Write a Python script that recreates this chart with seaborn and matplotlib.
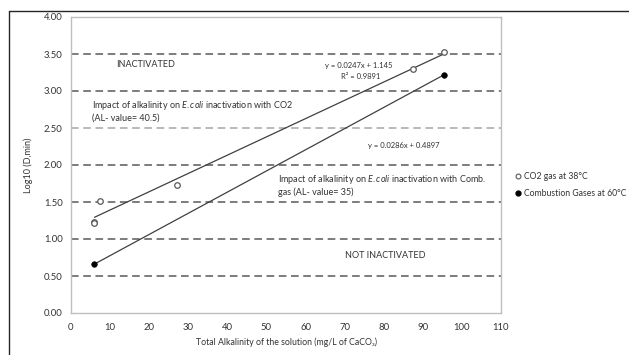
import numpy as np
import pandas as pd
import matplotlib
matplotlib.use("Agg")
import matplotlib.pyplot as plt
import seaborn as sns
from matplotlib.lines import Line2D

sns.set_theme(style="white")
plt.rcParams["font.family"] = ["Lato", "DejaVu Sans"]
plt.rcParams["mathtext.fontset"] = "custom"
plt.rcParams["mathtext.rm"] = "Lato"
plt.rcParams["mathtext.it"] = "Lato:italic"

# Measured points
co2_alk = [6.0, 6.0, 7.5, 27.0, 87.5, 95.5]
co2_logd = [1.23, 1.21, 1.52, 1.73, 3.30, 3.53]
comb_alk = [6.0, 95.5]
comb_logd = [0.66, 3.22]

# Linear trend coefficients (slope, intercept)
co2_fit = (0.0247, 1.145)
comb_fit = (0.0286, 0.4897)
fit_range = (6.0, 95.5)

x_ticks = list(range(0, 111, 10))
y_ticks = [0.0, 0.5, 1.0, 1.5, 2.0, 2.5, 3.0, 3.5, 4.0]

txt = "#333333"
fig = plt.figure(figsize=(6.29, 3.55), dpi=100)
ax = fig.add_axes([71 / 629, 1 - 313 / 355, 430 / 629, 296 / 355])

# dashed reference levels
for yv in y_ticks[1:-1]:
    ax.axhline(yv, color="#a6a6a6" if yv == 2.5 else "#595959",
               lw=1.1, ls=(0, (5, 3)), zorder=1)

# trend lines
xs = np.array(fit_range)
for (m, b) in (co2_fit, comb_fit):
    line_df = pd.DataFrame({"x": xs, "y": m * xs + b})
    sns.lineplot(data=line_df, x="x", y="y", ax=ax, color="#404040",
                 lw=0.9, zorder=2)

co2_df = pd.DataFrame({"x": co2_alk, "y": co2_logd})
comb_df = pd.DataFrame({"x": comb_alk, "y": comb_logd})
sns.scatterplot(data=co2_df, x="x", y="y", ax=ax, marker="o", s=16,
                facecolor="white", edgecolor="#595959", linewidth=0.9, zorder=3)
sns.scatterplot(data=comb_df, x="x", y="y", ax=ax, marker="o", s=16,
                color="black", edgecolor="black", linewidth=0.5, zorder=3)

ax.set_xlim(0, 110)
ax.set_ylim(0, 4)
ax.set_xticks(x_ticks)
ax.set_yticks(y_ticks)
ax.set_xticklabels([str(v) for v in x_ticks])
ax.set_yticklabels([f"{v:.2f}" for v in y_ticks])
ax.tick_params(axis="both", labelsize=6.8, colors=txt, length=0)
ax.tick_params(axis="x", pad=7)
ax.tick_params(axis="y", pad=6)
for s in ax.spines.values():
    s.set_color("#bfbfbf")
    s.set_linewidth(1.0)
ax.set_xlabel("Total Alkalinity of the solution (mg/L of CaCO₃)", fontsize=6.3,
              color=txt, labelpad=4)
ax.set_ylabel("Log10 (D,min)", fontsize=6.5, color=txt, labelpad=8)

fs = 6.5
ax.text(19, 3.36, "INACTIVATED", fontsize=fs, color=txt, ha="center", va="center")
ax.text(80.5, 0.78, "NOT INACTIVATED", fontsize=fs, color=txt, ha="center", va="center")
ax.text(5.5, 2.81, "Impact of alkalinity on $\\it{E.coli}$ inactivation with CO2",
        fontsize=fs, color=txt, ha="left", va="center")
ax.text(5.5, 2.64, "(AL- value= 40.5)", fontsize=fs, color=txt, ha="left", va="center")
ax.text(53, 1.81, "Impact of alkalinity on $\\it{E.coli}$ inactivation with Comb.",
        fontsize=fs, color=txt, ha="left", va="center")
ax.text(53, 1.63, "gas (AL- value= 35)", fontsize=fs, color=txt, ha="left", va="center")
ax.text(73.5, 3.34, f"y = {co2_fit[0]}x + {co2_fit[1]}", fontsize=5.5,
        color=txt, ha="center", va="center")
ax.text(74, 3.20, "R² = 0.9891", fontsize=5.5, color=txt, ha="center", va="center")
ax.text(85, 2.27, f"y = {comb_fit[0]}x + {comb_fit[1]}", fontsize=5.5,
        color=txt, ha="center", va="center")

handles = [
    Line2D([], [], ls="none", marker="o", ms=3.5, mfc="white", mec="#595959",
           mew=0.8, label="CO2 gas at 38°C"),
    Line2D([], [], ls="none", marker="o", ms=3.5, mfc="black", mec="black",
           label="Combustion Gases at 60°C"),
]
fig.legend(handles=handles, loc="upper left", bbox_to_anchor=(515 / 629, 1 - 172 / 355),
           frameon=False, fontsize=6.2, handletextpad=0.2, handlelength=0.8,
           labelspacing=0.9, labelcolor=txt, borderaxespad=0, borderpad=0)

# outer frame
fig.add_artist(Line2D([9 / 629, 9 / 629], [0, 1 - 11 / 355],
                      transform=fig.transFigure, color="#262626", lw=1.0))
fig.add_artist(Line2D([9 / 629, 1], [1 - 11 / 355, 1 - 11 / 355],
                      transform=fig.transFigure, color="#262626", lw=1.0))

fig.savefig("out.png", dpi=100)
